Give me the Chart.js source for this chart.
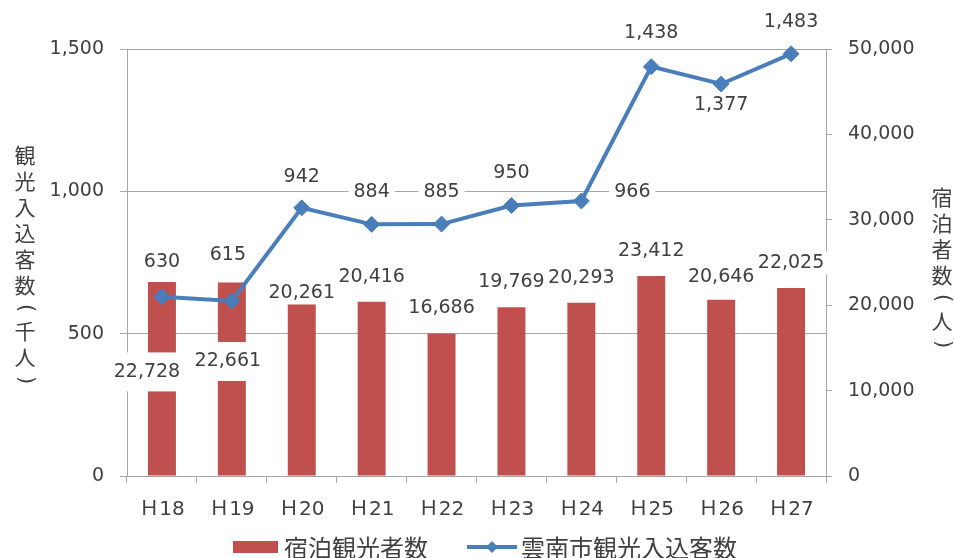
<!DOCTYPE html>
<html>
<head>
<meta charset="utf-8">
<script src="https://cdn.jsdelivr.net/npm/chart.js@4.4.1/dist/chart.umd.min.js"></script>
<style>
  html, body { margin: 0; padding: 0; background: #fff; }
  #wrap { width: 954px; height: 558px; }
</style>
</head>
<body>
<div id="wrap"><canvas id="chart" width="954" height="558"></canvas></div>
<script>
// data
const years = ["Ｈ18", "Ｈ19", "Ｈ20", "Ｈ21", "Ｈ22", "Ｈ23", "Ｈ24", "Ｈ25", "Ｈ26", "Ｈ27"];
const stayVisitors = [22728, 22661, 20261, 20416, 16686, 19769, 20293, 23412, 20646, 22025];
const totalVisitors = [630, 615, 942, 884, 885, 950, 966, 1438, 1377, 1483];

const barName = "宿泊観光者数";
const lineName = "雲南市観光入込客数";
const leftTitle = ["観", "光", "入", "込", "客", "数", "(", "千", "人", ")"];
const rightTitle = ["宿", "泊", "者", "数", "(", "人", ")"];

// where the data labels sit, relative to the bar top / the point (px)
const barLabelShift = [[-15, 90], [-4, 79], [0, -10], [0, -25], [0, -25], [0, -25], [0, -25], [0, -25], [0, -23], [0, -25]];
const lineLabelShift = [[0, -35], [-4, -46], [0, -31], [0, -32], [0, -32], [0, -33], [51, -9], [0, -34], [0, 21], [0, -32]];

const RED = "#C0504D";
const BLUE = "#4A7EBB";
const TEXT = "#404040";
const GRID = "#A6A6A6";
const NUM_FONT = "'DejaVu Sans', 'Noto Sans CJK JP', sans-serif";
const JP_FONT = "'Noto Sans CJK JP', sans-serif";

const fmt = (v) => Number(v).toLocaleString("en-US");

function labelBox(ctx, text, x, y, padX, padY) {
  const w = ctx.measureText(text).width;
  const h = 19;
  ctx.fillStyle = "#fff";
  ctx.fillRect(x - w / 2 - padX, y - h / 2 - padY, w + padX * 2, h + padY * 2);
  ctx.fillStyle = TEXT;
  ctx.fillText(text, x, y);
}

function verticalText(ctx, chars, x, y0) {
  let y = y0;
  let prevBracket = false;
  chars.forEach((c, i) => {
    const bracket = c === "(" || c === ")";
    if (i > 0) y += (bracket || prevBracket) ? 23 : 26;
    ctx.save();
    ctx.translate(x, y);
    if (bracket) {
      ctx.rotate(Math.PI / 2);
      ctx.font = "21px " + NUM_FONT;
    } else {
      ctx.font = "21px " + JP_FONT;
    }
    ctx.fillText(c, 0, 0);
    ctx.restore();
    prevBracket = bracket;
  });
}

const extras = {
  id: "extras",
  afterDatasetsDraw(chart) {
    const ctx = chart.ctx;
    ctx.save();
    ctx.textAlign = "center";
    ctx.textBaseline = "middle";
    ctx.font = "19px " + NUM_FONT;

    // bar labels (right axis data)
    const barMeta = chart.getDatasetMeta(1);
    barMeta.data.forEach((bar, i) => {
      const [dx, dy] = barLabelShift[i];
      const pad = dy > 0 ? 10 : 2;
      labelBox(ctx, fmt(stayVisitors[i]), bar.x + dx, bar.y + dy, 3, pad);
    });

    // line labels (left axis data)
    const lineMeta = chart.getDatasetMeta(0);
    lineMeta.data.forEach((pt, i) => {
      const [dx, dy] = lineLabelShift[i];
      labelBox(ctx, fmt(totalVisitors[i]), pt.x + dx, pt.y + dy, 5, 2);
    });
    ctx.restore();
  },
  afterDraw(chart) {
    const ctx = chart.ctx;
    ctx.save();
    ctx.fillStyle = TEXT;
    ctx.textAlign = "center";
    ctx.textBaseline = "middle";
    verticalText(ctx, leftTitle, 25, 155);
    verticalText(ctx, rightTitle, 942, 197);

    // legend
    const ly = 547;
    ctx.fillStyle = RED;
    ctx.fillRect(233, ly - 6, 45, 12);
    ctx.fillStyle = TEXT;
    ctx.textAlign = "left";
    ctx.font = "24px " + JP_FONT;
    ctx.fillText(barName, 284, ly + 1);

    ctx.strokeStyle = BLUE;
    ctx.lineWidth = 4;
    ctx.beginPath();
    ctx.moveTo(467, ly);
    ctx.lineTo(517, ly);
    ctx.stroke();
    ctx.fillStyle = BLUE;
    ctx.beginPath();
    ctx.moveTo(492 - 6, ly);
    ctx.lineTo(492, ly - 6);
    ctx.lineTo(492 + 6, ly);
    ctx.lineTo(492, ly + 6);
    ctx.closePath();
    ctx.fill();
    ctx.fillStyle = TEXT;
    ctx.fillText(lineName, 521, ly + 1);
    ctx.restore();
  }
};

new Chart(document.getElementById("chart"), {
  type: "bar",
  data: {
    labels: years,
    datasets: [
      {
        type: "line",
        label: lineName,
        data: totalVisitors,
        yAxisID: "y",
        order: 0,
        borderColor: BLUE,
        borderWidth: 4,
        pointStyle: "rectRot",
        pointRadius: 8,
        pointBackgroundColor: BLUE,
        pointBorderColor: BLUE,
        pointBorderWidth: 1,
        tension: 0,
        clip: false,
      },
      {
        type: "bar",
        label: barName,
        data: stayVisitors,
        yAxisID: "y2",
        order: 1,
        backgroundColor: RED,
        categoryPercentage: 0.8,
        barPercentage: 0.5,
      },
    ],
  },
  options: {
    responsive: false,
    animation: false,
    layout: { padding: { top: 49, left: 0, right: 0, bottom: 0 } },
    plugins: {
      legend: { display: false },
      tooltip: { enabled: false },
    },
    scales: {
      x: {
        offset: true,
        grid: { offset: true, drawOnChartArea: false, drawTicks: true, tickLength: 7, color: GRID },
        border: { color: GRID },
        ticks: { color: TEXT, font: { size: 20, family: NUM_FONT }, padding: 15, maxRotation: 0 },
        afterFit: (s) => { s.height = 82; },
      },
      y: {
        position: "left",
        min: 0,
        max: 1500,
        ticks: { stepSize: 500, color: TEXT, font: { size: 19, family: NUM_FONT }, padding: 16, callback: (v) => fmt(v) },
        grid: { color: GRID, tickLength: 7, drawTicks: true },
        border: { color: GRID },
        afterFit: (s) => { s.width = 127; },
      },
      y2: {
        position: "right",
        min: 0,
        max: 50000,
        ticks: { stepSize: 10000, color: TEXT, font: { size: 19, family: NUM_FONT }, padding: 16, callback: (v) => fmt(v) },
        grid: { drawOnChartArea: false, color: GRID, tickLength: 6, drawTicks: true },
        border: { color: GRID },
        afterFit: (s) => { s.width = 128; },
      },
    },
  },
  plugins: [extras],
});
</script>
</body>
</html>
